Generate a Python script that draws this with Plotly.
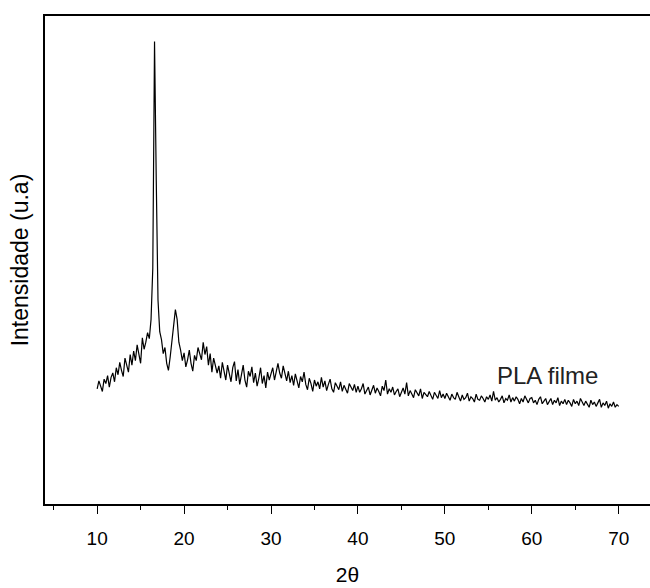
import plotly.graph_objects as go

# 2-theta grid (instrument step 0.2 deg, 10 -> 70)
two_theta = [round(10 + 0.2 * i, 1) for i in range(301)]

# Intensity (arbitrary units), rows of 2 degrees
intensity = [
    131, 140, 134, 128, 142, 137, 146, 133, 144, 149,   # 10.0-11.8
    139, 155, 147, 161, 152, 145, 166, 158, 150, 170,   # 12.0-13.8
    158, 174, 163, 181, 168, 160, 189, 176, 184, 195,   # 14.0-15.8
    188, 210, 268, 526, 368, 232, 196, 187, 171, 178,   # 16.0-17.8
    160, 152, 167, 183, 201, 221, 210, 184, 175, 163,   # 18.0-19.8
    172, 156, 164, 175, 160, 151, 169, 163, 178, 170,   # 20.0-21.8
    164, 184, 170, 179, 158, 171, 150, 166, 158, 149,   # 22.0-23.8
    157, 143, 161, 150, 141, 158, 147, 139, 155, 162,   # 24.0-25.8
    140, 153, 136, 149, 158, 141, 133, 151, 145, 156,   # 26.0-27.8
    138, 149, 134, 143, 155, 137, 146, 132, 150, 141,   # 28.0-29.8
    147, 155, 141, 152, 160, 149, 143, 157, 148, 140,   # 30.0-31.8
    151, 138, 146, 135, 148, 141, 132, 145, 139, 150,   # 32.0-33.8
    136, 130, 143, 137, 128, 141, 134, 139, 131, 144,   # 34.0-35.8
    133, 140, 129, 136, 142, 131, 127, 138, 134, 130,   # 36.0-37.8
    139, 128, 135, 131, 126, 137, 133, 129, 136, 127,   # 38.0-39.8
    134, 127, 131, 137, 125, 130, 133, 124, 129, 135,   # 40.0-41.8
    126, 132, 128, 123, 134, 129, 141, 125, 131, 127,   # 42.0-43.8
    133, 124, 128, 131, 122, 127, 132, 125, 138, 123,   # 44.0-45.8
    129, 125, 121, 130, 126, 123, 131, 120, 127, 124,   # 46.0-47.8
    122, 128, 124, 119, 127, 123, 120, 129, 121, 125,   # 48.0-49.8
    120, 126, 122, 118, 125, 121, 119, 127, 122, 117,   # 50.0-51.8
    124, 119, 121, 126, 117, 122, 120, 116, 125, 119,   # 52.0-53.8
    118, 123, 120, 116, 122, 119, 124, 117, 128, 118,   # 54.0-55.8
    121, 116, 119, 123, 115, 120, 118, 124, 116, 121,   # 56.0-57.8
    117, 122, 119, 114, 120, 116, 123, 118, 115, 120,   # 58.0-59.8
    121, 115, 118, 113, 119, 122, 114, 117, 120, 113,   # 60.0-61.8
    116, 120, 113, 118, 115, 121, 112, 117, 114, 119,   # 62.0-63.8
    113, 118, 115, 111, 119, 114, 117, 112, 120, 115,   # 64.0-65.8
    112, 117, 114, 110, 118, 113, 116, 111, 115, 119,   # 66.0-67.8
    110, 115, 112, 117, 109, 114, 111, 116, 110, 113,   # 68.0-69.8
    111,                                                # 70.0
]

x_ticks = [10, 20, 30, 40, 50, 60, 70]
sample_label = "PLA filme"
x_title = "2θ"
y_title = "Intensidade (u.a)"

FONT = "Liberation Sans, Arial, sans-serif"

fig = go.Figure()
fig.add_trace(go.Scatter(
    x=two_theta, y=intensity, mode="lines",
    line=dict(color="black", width=1.2),
    showlegend=False, hoverinfo="skip",
))

fig.add_annotation(
    x=61.8, y=146, text=sample_label, showarrow=False,
    font=dict(family=FONT, size=24, color="#222222"),
    xanchor="center", yanchor="middle",
)

fig.update_layout(
    width=650, height=588,
    margin=dict(l=45, r=0, t=16, b=84, pad=0),
    paper_bgcolor="white", plot_bgcolor="white",
    font=dict(family=FONT, color="black"),
    xaxis=dict(
        range=[4.0, 73.6],
        automargin=False,
        tickvals=x_ticks,
        ticks="outside", ticklen=8, tickwidth=1, tickcolor="black",
        ticklabelstandoff=8,
        minor=dict(dtick=5, tick0=5, ticks="outside", ticklen=4, tickcolor="black"),
        showline=True, linecolor="black", linewidth=1.5, mirror=True,
        showgrid=False, zeroline=False,
        tickfont=dict(size=19, family=FONT),
        title=dict(text=x_title, font=dict(size=21, family=FONT), standoff=20),
    ),
    yaxis=dict(
        range=[0, 555],
        automargin=False,
        showticklabels=False, ticks="",
        showline=True, linecolor="black", linewidth=1.5, mirror=False,
        showgrid=False, zeroline=False,
        title=dict(text=y_title, font=dict(size=23, family=FONT), standoff=8),
    ),
)

fig.write_html(
    "out.html",
    config={"displayModeBar": False},
    post_script="document.body.style.margin='0';document.body.style.overflow='hidden';",
)
